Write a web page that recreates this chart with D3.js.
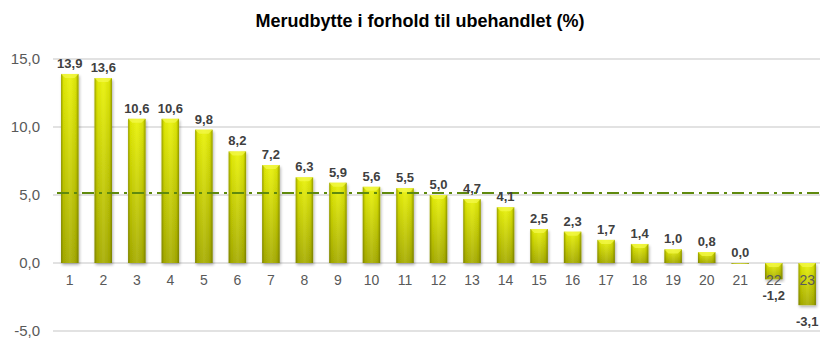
<!DOCTYPE html>
<html lang="no">
<head>
<meta charset="UTF-8">
<title>Merudbytte</title>
<script src="https://cdn.jsdelivr.net/npm/d3@7"></script>
<style>
  body { margin: 0; background: #fff; }
  svg { font-family: Arial, "Liberation Sans", sans-serif; }
</style>
</head>
<body>
<svg id="chart" width="834" height="341"></svg>
<script>
// data
const categories = d3.range(1, 24).map(String)
const values = [13.9, 13.6, 10.6, 10.6, 9.8, 8.2, 7.2, 6.3, 5.9, 5.6, 5.5, 5.0, 4.7, 4.1, 2.5, 2.3, 1.7, 1.4, 1.0, 0.8, 0.0, -1.2, -3.1]
const yTicks = [-5, 0, 5, 10, 15]
const averageLine = 5.15

const fmt = v => v.toFixed(1).replace('.', ',')

const svg = d3.select('#chart')
const plotLeft = 53, plotRight = 824, plotTop = 59, plotBottom = 331

const x = d3.scaleBand().domain(categories).range([plotLeft, plotRight]).paddingInner(0.48).paddingOuter(0.24)
const y = d3.scaleLinear().domain([-5, 15]).range([plotBottom, plotTop])

const defs = svg.append('defs')
const vg = defs.append('linearGradient').attr('id', 'barV').attr('x1', 0).attr('y1', 0).attr('x2', 0).attr('y2', 1)
vg.append('stop').attr('offset', '0%').attr('stop-color', '#e9f205')
vg.append('stop').attr('offset', '100%').attr('stop-color', '#a7ad00')

const hg = defs.append('linearGradient').attr('id', 'barH').attr('x1', 0).attr('y1', 0).attr('x2', 1).attr('y2', 0)
hg.append('stop').attr('offset', '0%').attr('stop-color', '#5a5f00').attr('stop-opacity', 0.55)
hg.append('stop').attr('offset', '14%').attr('stop-color', '#5a5f00').attr('stop-opacity', 0.08)
hg.append('stop').attr('offset', '50%').attr('stop-color', '#ffffff').attr('stop-opacity', 0.08)
hg.append('stop').attr('offset', '86%').attr('stop-color', '#5a5f00').attr('stop-opacity', 0.12)
hg.append('stop').attr('offset', '100%').attr('stop-color', '#5a5f00').attr('stop-opacity', 0.6)

const shadow = defs.append('filter').attr('id', 'shadow').attr('x', '-30%').attr('y', '-10%').attr('width', '160%').attr('height', '130%')
shadow.append('feGaussianBlur').attr('in', 'SourceAlpha').attr('stdDeviation', 1.5)
shadow.append('feOffset').attr('dx', 1).attr('dy', 2).attr('result', 'b')
shadow.append('feComponentTransfer').append('feFuncA').attr('type', 'linear').attr('slope', 0.3)
const merge = shadow.append('feMerge')
merge.append('feMergeNode')
merge.append('feMergeNode').attr('in', 'SourceGraphic')

// title
svg.append('text')
  .attr('x', 420).attr('y', 27)
  .attr('text-anchor', 'middle')
  .attr('font-size', 18).attr('font-weight', 'bold').attr('fill', '#000')
  .text('Merudbytte i forhold til ubehandlet (%)')

// grid
svg.append('g').selectAll('line')
  .data(yTicks)
  .join('line')
  .attr('x1', plotLeft).attr('x2', plotRight - 4)
  .attr('y1', d => y(d)).attr('y2', d => y(d))
  .attr('stroke', '#d9d9d9').attr('stroke-width', 1.5)

// y axis labels
svg.append('g').selectAll('text')
  .data(yTicks)
  .join('text')
  .attr('x', 40).attr('y', d => y(d) + 5)
  .attr('text-anchor', 'end')
  .attr('font-size', 15).attr('fill', '#595959')
  .text(fmt)

// bars
const bars = svg.append('g').selectAll('g')
  .data(values.map((v, i) => ({ cat: categories[i], v })))
  .join('g')
  .attr('filter', 'url(#shadow)')

bars.append('rect')
  .attr('x', d => x(d.cat))
  .attr('y', d => y(Math.max(0, d.v)))
  .attr('width', x.bandwidth())
  .attr('height', d => Math.max(Math.abs(y(d.v) - y(0)), 0.8))
  .attr('fill', 'url(#barV)')

bars.append('rect')
  .attr('x', d => x(d.cat))
  .attr('y', d => y(Math.max(0, d.v)))
  .attr('width', x.bandwidth())
  .attr('height', d => Math.max(Math.abs(y(d.v) - y(0)), 0.8))
  .attr('fill', 'url(#barH)')

// top bevel
bars.filter(d => d.v !== 0).append('path')
  .attr('d', d => {
    const x0 = x(d.cat), w = x.bandwidth(), yt = y(Math.max(0, d.v)), b = 4
    return `M${x0},${yt}L${x0 + w},${yt}L${x0 + w - b},${yt + b}L${x0 + b},${yt + b}Z`
  })
  .attr('fill', '#f3f84a').attr('opacity', 0.75)

// x labels
svg.append('g').selectAll('text')
  .data(categories)
  .join('text')
  .attr('x', d => x(d) + x.bandwidth() / 2)
  .attr('y', y(0) + 22)
  .attr('text-anchor', 'middle')
  .attr('font-size', 14).attr('fill', '#595959')
  .text(d => d)

// average line
svg.append('line')
  .attr('x1', plotLeft + 4).attr('x2', plotRight - 4)
  .attr('y1', y(averageLine)).attr('y2', y(averageLine))
  .attr('stroke', '#5f8a0e').attr('stroke-width', 2)
  .attr('stroke-dasharray', '12,5,3,5')

// value labels
svg.append('g').selectAll('text')
  .data(values)
  .join('text')
  .attr('x', (d, i) => x(categories[i]) + x.bandwidth() / 2)
  .attr('y', d => d >= 0 ? y(d) - 6 : y(d) + 21)
  .attr('text-anchor', 'middle')
  .attr('font-size', 13).attr('font-weight', 'bold').attr('fill', '#404040')
  .text(fmt)
</script>
</body>
</html>
